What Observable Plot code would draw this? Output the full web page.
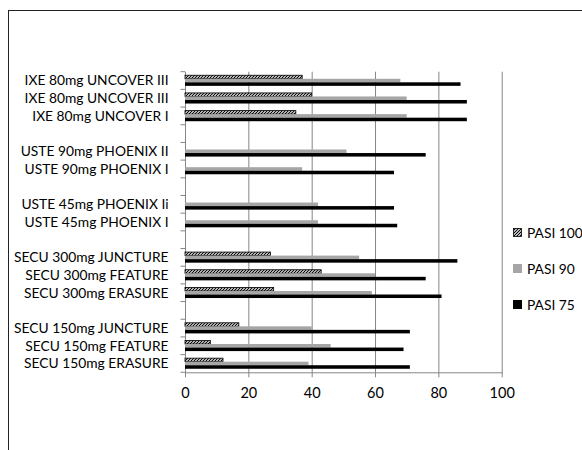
<!DOCTYPE html>
<html>
<head>
<meta charset="utf-8">
<script src="https://cdn.jsdelivr.net/npm/d3@7"></script>
<script src="https://cdn.jsdelivr.net/npm/@observablehq/plot@0.6"></script>
<style>
  html, body { margin: 0; padding: 0; background: #fff; }
  #wrap { position: relative; width: 582px; height: 450px; overflow: hidden; font-family: Lato, "Open Sans", sans-serif; }
  #frame { position: absolute; left: 8px; top: 10px; width: 700px; height: 600px; border-left: 1.5px solid #222; border-top: 1.5px solid #222; }
  #chart { position: absolute; left: 0; top: 0; }
  #legend { position: absolute; left: 513px; top: 223px; font-size: 13.8px; color: #000; white-space: nowrap; }
  .item { display: flex; align-items: center; height: 18px; margin-bottom: 18px; }
  svg g[aria-label="x-axis tick"] { stroke: #868686; }
</style>
</head>
<body>
<div id="wrap">
  <div id="frame"></div>
  <div id="chart"></div>
  <div id="legend"></div>
</div>
<script>
// Categories (top to bottom), "" = spacer row
const slotLabels = [
  "IXE 80mg UNCOVER III", "IXE 80mg UNCOVER III", "IXE 80mg UNCOVER I", "",
  "USTE 90mg PHOENIX II", "USTE 90mg PHOENIX I", "",
  "USTE 45mg PHOENIX Ii", "USTE 45mg PHOENIX I", "",
  "SECU 300mg JUNCTURE", "SECU 300mg FEATURE", "SECU 300mg ERASURE", "",
  "SECU 150mg JUNCTURE", "SECU 150mg FEATURE", "SECU 150mg ERASURE"
];
const seriesNames = ["PASI 100", "PASI 90", "PASI 75"];
const pasi100 = [37, 40, 35, null, null, null, null, null, null, null, 27, 43, 28, null, 17, 8, 12];
const pasi90  = [68, 70, 70, null, 51, 37, null, 42, 42, null, 55, 60, 59, null, 40, 46, 39];
const pasi75  = [87, 89, 89, null, 76, 66, null, 66, 67, null, 86, 76, 81, null, 71, 69, 71];
const xTicks = [0, 20, 40, 60, 80, 100];

const seriesValues = [pasi100, pasi90, pasi75];
const key = (i, s) => `${i}|${s}`;
const rows = [];
seriesValues.forEach((vals, s) => vals.forEach((v, i) => {
  if (v != null) rows.push({slot: i, series: seriesNames[s], key: key(i, seriesNames[s]), value: v});
}));

// y domain: each category row = spacer, three series bands, spacer
const yDomain = slotLabels.flatMap((_, i) => [key(i, "top"), ...seriesNames.map(s => key(i, s)), key(i, "bottom")]);
const labelKeys = slotLabels.map((l, i) => key(i, "PASI 90")).filter((_, i) => slotLabels[i] !== "");

const fills = ["url(#hatch)", "#a6a6a6", "#000000"];
const grid = "#868686";

const chart = Plot.plot({
  width: 582,
  height: 450,
  marginLeft: 185,
  marginRight: 80.3,
  marginTop: 71.7,
  marginBottom: 77.7,
  style: {fontFamily: "Lato, 'Open Sans', sans-serif", fontSize: "14px", color: "#000", background: "transparent"},
  x: {domain: [0, 100]},
  y: {domain: yDomain, padding: 0},
  color: {domain: seriesNames, range: fills},
  marks: [
    Plot.gridX(xTicks.filter(d => d > 0), {stroke: grid, strokeOpacity: 1, strokeWidth: 1}),
    Plot.ruleX([0], {stroke: grid, strokeWidth: 1}),
    Plot.frame({anchor: "bottom", stroke: grid, strokeWidth: 1}),
    Plot.barX(rows, {y: "key", x: "value", fill: "series",
      stroke: d => d.series === "PASI 100" ? "#000" : "none", strokeWidth: 0.8}),
    Plot.axisY(labelKeys, {anchor: "left", tickSize: 0, tickPadding: 17,
      tickFormat: k => slotLabels[+k.split("|")[0]], label: null, fontSize: 13.8}),
    Plot.axisX(xTicks, {tickSize: 5, tickPadding: 10, label: null, fontSize: 14.5})
  ]
});

// hatch pattern for PASI 100
d3.select(chart).insert("defs", ":first-child").html(
  `<pattern id="hatch" patternUnits="userSpaceOnUse" width="3" height="3">
     <rect width="3" height="3" fill="#fff"/>
     <path d="M-1,1 L1,-1 M0,3 L3,0 M2,4 L4,2" stroke="#000" stroke-width="1.1"/>
   </pattern>`);

// category-boundary ticks on the y axis, from the y band scale
const ys = chart.scale("y");
const xs = chart.scale("x");
const bounds = slotLabels.map((_, i) => ys.apply(key(i, "top")))
  .concat([ys.apply(key(slotLabels.length - 1, "bottom")) + ys.bandwidth]);
const x0 = xs.apply(0);
d3.select(chart).append("g").attr("aria-label", "y-boundary ticks")
  .selectAll("line").data(bounds).join("line")
  .attr("x1", x0 - 4.5).attr("x2", x0)
  .attr("y1", d => d).attr("y2", d => d)
  .attr("stroke", grid).attr("stroke-width", 1);

document.getElementById("chart").appendChild(chart);

// legend
const legend = d3.select("#legend");
seriesNames.forEach((name, i) => {
  const it = legend.append("div").attr("class", "item");
  const sw = it.append("svg").attr("width", 9).attr("height", 9).style("margin-right", "5px");
  if (i === 0) {
    sw.append("defs").html(`<pattern id="hatch2" patternUnits="userSpaceOnUse" width="3" height="3"><rect width="3" height="3" fill="#fff"/><path d="M-1,1 L1,-1 M0,3 L3,0 M2,4 L4,2" stroke="#000" stroke-width="1.1"/></pattern>`);
    sw.append("rect").attr("x", 0.5).attr("y", 0.5).attr("width", 8).attr("height", 8).attr("fill", "url(#hatch2)").attr("stroke", "#000").attr("stroke-width", 0.8);
  } else {
    sw.append("rect").attr("width", 9).attr("height", 9).attr("fill", fills[i]);
  }
  it.append("span").text(name);
});
</script>
</body>
</html>
